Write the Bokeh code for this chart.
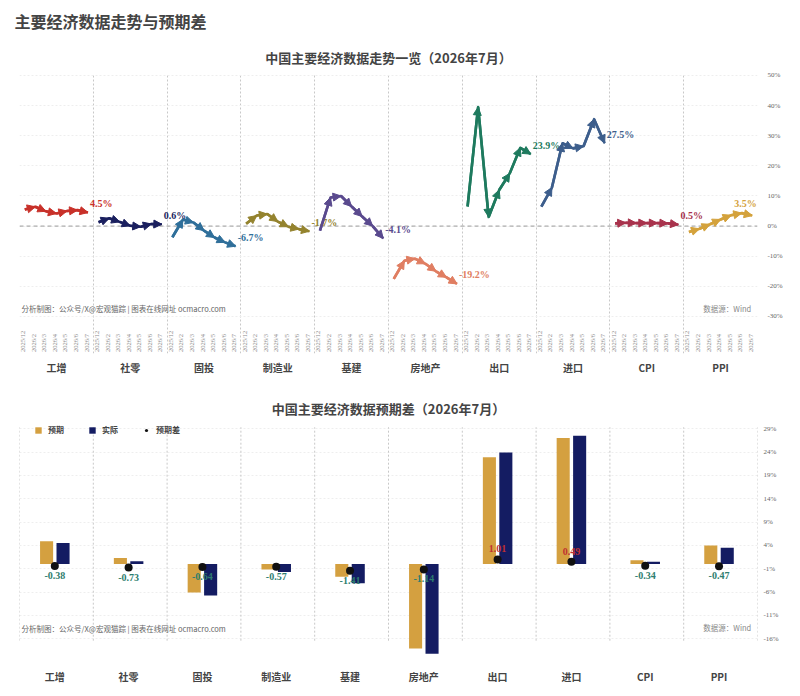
import numpy as np
from bokeh.plotting import figure
from bokeh.models import (ColumnDataSource, Arrow, NormalHead, FixedTicker, PrintfTickFormatter,
                          Title, Span, Legend, LegendItem, Label)
from bokeh.layouts import column
from bokeh.core.properties import value
from bokeh.embed import file_html
from bokeh.resources import INLINE

# ---------------- data ----------------
categories = ["工增", "社零", "固投", "制造业", "基建", "房地产", "出口", "进口", "CPI", "PPI"]
months = ["2025/12", "2026/2", "2026/3", "2026/4", "2026/5", "2026/6", "2026/7"]

gongzeng = [5.5, 6.4, 4.9, 4.2, 5.0, 5.3, 4.5]
shelin = [1.3, 2.6, 1.4, 0.1, -0.2, 0.7, 0.6]
gutou = [-3.7, 2.2, 1.2, -1.5, -3.8, -5.4, -6.7]
zhizao = [0.8, 3.5, 4.0, 1.5, -0.2, -1.0, -1.7]
jijian = [-1.5, 9.5, 10.0, 6.5, 3.2, 0.0, -4.1]
fangdichan = [-17.5, -11.5, -10.8, -12.5, -15.0, -17.0, -19.2]
chukou = [6.5, 39.5, 3.0, 12.0, 17.5, 26.0, 23.9]
jinkou = [6.5, 12.8, 27.5, 25.8, 26.5, 35.5, 27.5]
cpi = [0.9, 1.1, 1.0, 1.0, 1.0, 0.9, 0.5]
ppi = [-2.0, -0.9, 0.6, 2.2, 3.6, 4.3, 3.5]

series = [gongzeng, shelin, gutou, zhizao, jijian, fangdichan, chukou, jinkou, cpi, ppi]
colors = ["#c8312a", "#1a1f5e", "#2f6f9a", "#94832e", "#5a4a8e",
          "#e07e62", "#1e7a5e", "#3d5e8c", "#a8324c", "#d4a23c"]

expected = [4.88, 1.33, -6.06, -1.13, -2.69, -18.06, 22.89, 27.01, 0.84, 3.97]
actual = [4.5, 0.6, -6.7, -1.7, -4.1, -19.2, 23.9, 27.5, 0.5, 3.5]
surprise = [-0.38, -0.73, -0.64, -0.57, -1.41, -1.14, 1.01, 0.49, -0.34, -0.47]

top_ticks = [-30, -20, -10, 0, 10, 20, 30, 40, 50]
bottom_ticks = [-16, -11, -6, -1, 4, 9, 14, 19, 24, 29]

GW = 7  # slots per group
ng = len(categories)
group_centers = [g * GW + 3.5 for g in range(ng)]
bounds = [g * GW for g in range(ng + 1)]

CJK = "Noto Sans CJK SC"
SERIF = "Liberation Serif"
watermark = "分析制图：公众号/X@宏观猫踪 | 图表在线网址 ocmacro.com"


def style_axes(p, centers, standoff):
    p.xaxis.ticker = FixedTicker(ticks=centers)
    p.xaxis.major_label_overrides = {c: n for c, n in zip(centers, categories)}
    for ax in (p.xaxis, p.yaxis):
        ax.axis_line_color = None
        ax.major_tick_line_color = None
        ax.minor_tick_line_color = None
        ax.major_tick_out = 0
        ax.major_tick_in = 0
        ax.minor_tick_out = 0
        ax.minor_tick_in = 0
    p.xaxis.major_label_text_font = CJK
    p.xaxis.major_label_text_font_style = "bold"
    p.xaxis.major_label_text_font_size = "10px"
    p.xaxis.major_label_standoff = standoff
    p.yaxis.formatter = PrintfTickFormatter(format="%d%%")
    p.yaxis.major_label_text_font = SERIF
    p.yaxis.major_label_text_font_size = "7px"
    p.yaxis.major_label_text_color = "#666666"


# ---------------- top chart ----------------
p1 = figure(frame_width=738, frame_height=280, x_range=(0, 70), y_range=(-42.3, 50.66),
            output_backend="svg", toolbar_location=None, y_axis_location="right",
            min_border_left=19, min_border_right=27, min_border_top=65, min_border_bottom=32)
p1.outline_line_color = None
p1.title.text = "主要经济数据走势与预期差"
p1.title.align = "left"
p1.title.text_font = CJK
p1.title.text_font_size = "16px"
p1.title.text_font_style = "bold"
p1.title.standoff = 12
p1.title.offset = -5
p1.add_layout(Title(text="中国主要经济数据走势一览（2026年7月）", align="center", text_font=CJK,
                    text_font_size="13px", text_font_style="bold", standoff=14), "above")

style_axes(p1, group_centers, 6)
p1.yaxis.ticker = FixedTicker(ticks=top_ticks)
p1.yaxis.major_label_standoff = 10

p1.xgrid.ticker = FixedTicker(ticks=bounds)
p1.xgrid.grid_line_color = "#c8c8c8"
p1.xgrid.grid_line_dash = "2 2"
p1.ygrid.grid_line_color = "#eeeeee"
p1.ygrid.grid_line_dash = "2 2"
p1.add_layout(Span(location=0, dimension="width", line_color="#999999",
                   line_dash="4 3", line_width=1))

for g, (vals, c) in enumerate(zip(series, colors)):
    xs = [g * GW + j + 0.5 for j in range(len(vals))]
    p1.line(xs, vals, line_color=c, line_width=2.6, line_join="round")
    src = ColumnDataSource(dict(x0=xs[:-1], y0=vals[:-1], x1=xs[1:], y1=vals[1:]))
    p1.add_layout(Arrow(end=NormalHead(size=8, fill_color=c, line_color=c, line_width=1),
                        x_start="x0", y_start="y0", x_end="x1", y_end="y1",
                        source=src, line_color=c, line_width=2.6))
    last = (g == ng - 1)
    # the final label would spill past the plot frame (and be clipped), so it is
    # nudged left to stay fully visible
    xo = -18 if last else 2
    yo = 12 if last else 9
    p1.add_layout(Label(x=xs[-1], y=vals[-1], text=f"{vals[-1]:.1f}%", x_offset=xo, y_offset=yo,
                        text_align="left", text_baseline="middle", text_color=c,
                        text_font=SERIF, text_font_style="bold", text_font_size="10px"))

mx, my, mt = [], [], []
for g in range(ng):
    for j, m in enumerate(months):
        mx.append(g * GW + j + 0.5)
        my.append(-41.8)
        mt.append(m)
p1.text(x=mx, y=my, text=mt, angle=np.pi / 2, x_offset=-2, text_align="left",
        text_baseline="middle", text_color="#8a8a8a", text_font=value(SERIF),
        text_font_size="6.5px")

p1.text(x=[0.2], y=[-27.4], text=[watermark], text_align="left", text_baseline="middle",
        text_color="#666666", text_font=value(CJK), text_font_size="7.5px")
p1.text(x=[69.4], y=[-27.2], text=["数据源：Wind"], text_align="right", text_baseline="middle",
        text_color="#888888", text_font=value(CJK), text_font_size="7.5px")

# ---------------- bottom chart ----------------
p2 = figure(frame_width=738, frame_height=240, x_range=(0, 70), y_range=(-20.64, 30.75),
            output_backend="svg", toolbar_location=None, y_axis_location="right",
            min_border_left=19, min_border_right=27, min_border_top=35, min_border_bottom=28)
p2.outline_line_color = None
p2.title.text = "中国主要经济数据预期差（2026年7月）"
p2.title.align = "center"
p2.title.text_font = CJK
p2.title.text_font_size = "13px"
p2.title.text_font_style = "bold"
p2.title.standoff = 5

bc = [g * GW + 3.35 for g in range(ng)]
style_axes(p2, bc, 8)
p2.yaxis.ticker = FixedTicker(ticks=bottom_ticks)
p2.yaxis.major_label_standoff = 6
p2.xgrid.grid_line_color = None
p2.ygrid.grid_line_color = "#eeeeee"
p2.ygrid.grid_line_dash = "2 2"

p2.segment(x0=bounds, y0=[-16.4] * len(bounds), x1=bounds, y1=[29.3] * len(bounds),
           line_color="#c8c8c8", line_dash="2 2", line_width=1)

r_exp = p2.vbar(x=[c - 0.78 for c in bc], top=expected, bottom=0, width=1.24,
                fill_color="#d4a040", line_color=None)
r_act = p2.vbar(x=[c + 0.78 for c in bc], top=actual, bottom=0, width=1.24,
                fill_color="#141c62", line_color=None)
r_dot = p2.scatter(x=bc, y=surprise, size=8, fill_color="#111111", line_color=None)

neg = [i for i, v in enumerate(surprise) if v < 0]
pos = [i for i, v in enumerate(surprise) if v >= 0]
p2.text(x=[bc[i] for i in neg], y=[surprise[i] for i in neg],
        text=[f"{surprise[i]:.2f}" for i in neg], y_offset=6, text_align="center",
        text_baseline="top", text_color="#2e7d6e",
        text_font=value(SERIF), text_font_style="bold", text_font_size="10px")
p2.text(x=[bc[i] for i in pos], y=[surprise[i] for i in pos],
        text=[f"{surprise[i]:.2f}" for i in pos], y_offset=-7, text_align="center",
        text_baseline="bottom", text_color="#c03030",
        text_font=value(SERIF), text_font_style="bold", text_font_size="10px")

p2.text(x=[0.2], y=[-13.7], text=[watermark], text_align="left", text_baseline="middle",
        text_color="#666666", text_font=value(CJK), text_font_size="7.5px")
p2.text(x=[69.4], y=[-13.6], text=["数据源：Wind"], text_align="right", text_baseline="middle",
        text_color="#888888", text_font=value(CJK), text_font_size="7.5px")

legend = Legend(items=[LegendItem(label="预期", renderers=[r_exp]),
                       LegendItem(label="实际", renderers=[r_act]),
                       LegendItem(label="预期差", renderers=[r_dot])],
                orientation="horizontal", location=(15, 225),
                glyph_width=8, glyph_height=8, label_height=10, label_width=34,
                label_standoff=6, spacing=6, padding=2, margin=0,
                label_text_font=CJK, label_text_font_style="bold", label_text_font_size="8px",
                border_line_color=None, background_fill_alpha=0)
p2.add_layout(legend)

layout = column(p1, p2)
open("out.html", "w").write(file_html(layout, INLINE))
